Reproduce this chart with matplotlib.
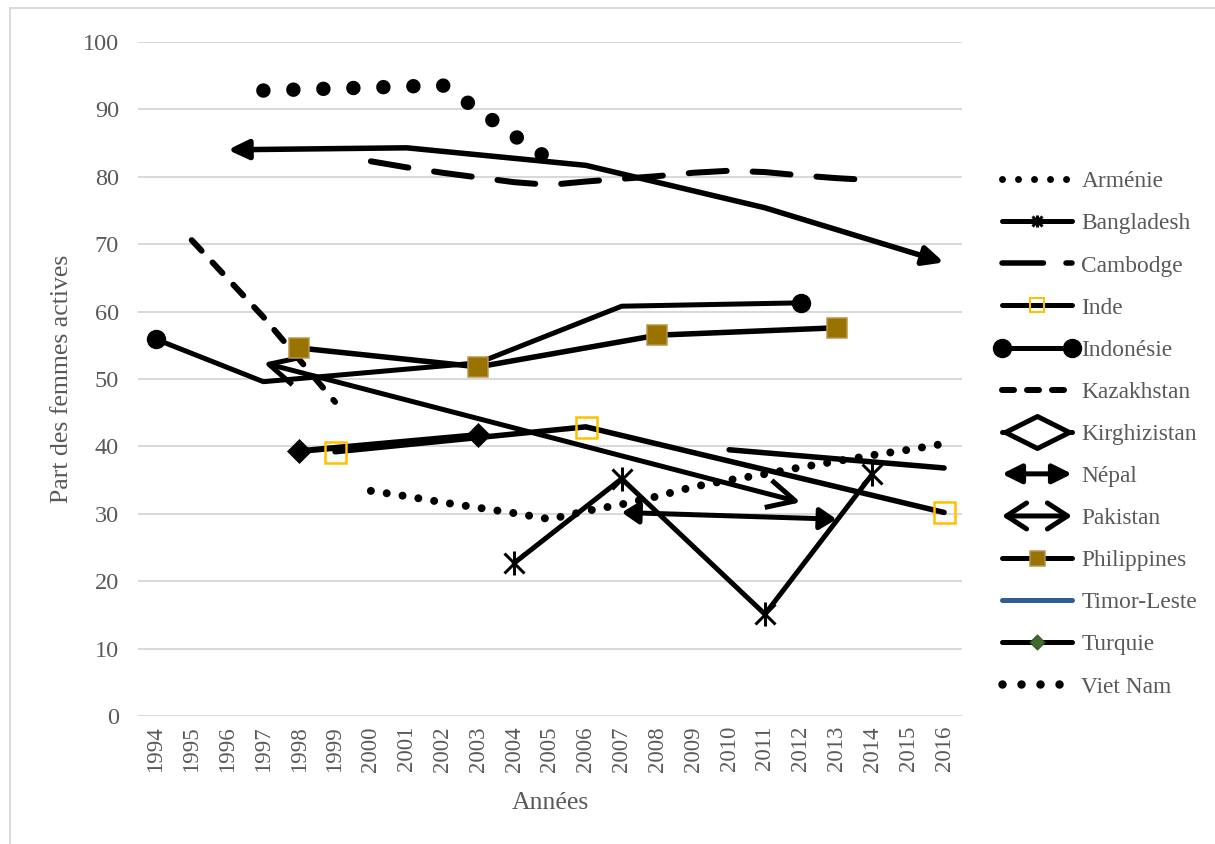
import numpy as np
import matplotlib
matplotlib.use('Agg')
import matplotlib.pyplot as plt
from matplotlib.path import Path
from matplotlib.markers import MarkerStyle
from matplotlib.lines import Line2D
from matplotlib.patches import FancyArrowPatch, Rectangle, ArrowStyle
from matplotlib.legend_handler import HandlerLine2D, HandlerBase

plt.rcParams['font.family'] = ['Liberation Serif', 'DejaVu Serif']

DPI = 100
W, H = 1215, 844


def px(v):
    return v * 72.0 / DPI


# ---------------- data ----------------
annees = list(range(1994, 2017))

armenie_x = list(range(2000, 2017))
armenie_y = [33.4, 32.6, 31.7, 30.9, 30.1, 29.2, 30.4, 31.4, 32.6, 34.0, 35.0,
             35.9, 36.9, 37.8, 38.7, 39.5, 40.4]

bangladesh_x = [2004, 2007, 2011, 2014]
bangladesh_y = [22.7, 35.2, 15.1, 35.9]

cambodge_x = list(range(2000, 2015))
cambodge_y = [82.3, 81.4, 80.6, 79.9, 79.2, 78.8, 79.3, 79.7, 80.1, 80.6, 80.9,
              80.7, 80.2, 79.8, 79.5]

inde_x = [1999, 2006, 2016]
inde_y = [39.2, 42.9, 30.2]

indonesie_x = [1994, 1997, 2003, 2007, 2012]
indonesie_y = [55.9, 49.6, 52.4, 60.8, 61.3]

kazakhstan_x = [1995, 1996, 1997, 1998, 1999]
kazakhstan_y = [70.6, 64.9, 59.2, 52.9, 46.6]

kirghizistan_x = [1998, 2003]
kirghizistan_y = [39.3, 41.7]

nepal_x = [1996, 2001, 2006, 2011, 2016]
nepal_y = [84.0, 84.3, 81.7, 75.4, 67.3]

pakistan_x = [1997, 2012]
pakistan_y = [52.4, 31.7]

philippines_x = [1998, 2003, 2008, 2013]
philippines_y = [54.6, 51.8, 56.5, 57.6]

vietnam_x = list(range(1997, 2006))
vietnam_y = [92.8, 92.95, 93.1, 93.25, 93.4, 93.6, 89.9, 86.1, 82.5]

autre1_x = [2007, 2013]
autre1_y = [30.2, 29.2]

autre2_x = [2010, 2016]
autre2_y = [39.5, 36.8]

legend_labels = ['Arménie', 'Bangladesh', 'Cambodge', 'Inde', 'Indonésie',
                 'Kazakhstan', 'Kirghizistan', 'Népal', 'Pakistan',
                 'Philippines', 'Timor-Leste', 'Turquie', 'Viet Nam']

# ---------------- styles ----------------
TXT = '#595959'
GRID = '#D9D9D9'
YELLOW = '#FFC000'
BROWN = '#997300'
BROWN_EDGE = '#B8954A'
BLUE = '#2E5E93'
GREEN = '#3F6B2B'

asterisk = Path([(-1, -1), (1, 1), (-1, 1), (1, -1), (0, -1.2), (0, 1.2)],
                [Path.MOVETO, Path.LINETO, Path.MOVETO, Path.LINETO,
                 Path.MOVETO, Path.LINETO])
diamond = Path([(-1, 0), (0, 1), (1, 0), (0, -1), (-1, 0)],
               [Path.MOVETO, Path.LINETO, Path.LINETO, Path.LINETO, Path.CLOSEPOLY])
wide_diamond = Path([(-1, 0), (0, 0.5), (1, 0), (0, -0.5), (-1, 0)],
                    [Path.MOVETO, Path.LINETO, Path.LINETO, Path.LINETO, Path.CLOSEPOLY])


def dash_ls(on_px, off_px, lw_px):
    return (0, (max(on_px, 0.01) / lw_px, off_px / lw_px))


fig = plt.figure(figsize=(W / DPI, H / DPI), dpi=DPI)
fig.patch.set_facecolor('white')
ax = fig.add_axes([138 / W, 1 - 716 / H, 824 / W, 674 / H])
ax.set_xlim(1993.5, 2016.5)
ax.set_ylim(0, 100)

for s in ax.spines.values():
    s.set_visible(False)
ax.set_yticks(range(0, 101, 10))
ax.set_xticks(annees)
ax.set_xticklabels([str(a) for a in annees], rotation=90)
ax.tick_params(axis='both', length=0, labelcolor=TXT)
ax.tick_params(axis='y', pad=px(19), labelsize=17.5)
ax.tick_params(axis='x', pad=px(10), labelsize=16.5)
ax.yaxis.grid(True, color=GRID, lw=px(2))
ax.set_axisbelow(True)

fig.text(62 / W, 1 - 379 / H, 'Part des femmes actives', rotation=90,
         ha='center', va='center', fontsize=18.5, color=TXT)
fig.text(550 / W, 1 - 803 / H, 'Années', ha='center', va='center',
         fontsize=18.5, color=TXT)

fig.patches.append(Rectangle((10 / W, -0.05), 1.5, 1.05 - 8 / H,
                             transform=fig.transFigure, fill=False,
                             ec=GRID, lw=px(2)))

common = dict(color='k', solid_capstyle='round', solid_joinstyle='round')


def arrow_line(xs, ys, style, lw_px, hl_px, hw_px, z=3):
    st = ArrowStyle(style, head_length=px(hl_px), head_width=px(hw_px))
    p = FancyArrowPatch(path=Path(np.column_stack([xs, ys])), arrowstyle=st,
                        mutation_scale=1, lw=px(lw_px), color='k',
                        joinstyle='round', capstyle='butt', zorder=z)
    ax.add_patch(p)
    return p


# Viet Nam - big round dots
ax.plot(vietnam_x, vietnam_y, color='k', lw=px(14.5),
        linestyle=dash_ls(0, 30, 14.5), dash_capstyle='round', zorder=3)
# Arménie - small round dots
ax.plot(armenie_x, armenie_y, color='k', lw=px(8),
        linestyle=dash_ls(0, 16, 8), dash_capstyle='round', zorder=3)
# Cambodge - long dashes
ax.plot(cambodge_x, cambodge_y, color='k', lw=px(6),
        linestyle=dash_ls(38, 26, 6), dash_capstyle='round',
        dash_joinstyle='round', zorder=3)
# Kazakhstan - dashes
ax.plot(kazakhstan_x, kazakhstan_y, color='k', lw=px(6),
        linestyle=dash_ls(14.5, 16, 6), dash_capstyle='round', zorder=3)
# Népal - filled arrows
arrow_line(nepal_x, nepal_y, '<|-|>', 5.5, 17, 8)
# Pakistan - open arrows
arrow_line(pakistan_x, pakistan_y, '<->', 5, 28, 14)
# other line with arrows
arrow_line(autre1_x, autre1_y, '<|-|>', 5, 14, 9)
# other plain line
ax.plot(autre2_x, autre2_y, lw=px(5.5), zorder=3, **common)
# Indonésie
ax.plot(indonesie_x, indonesie_y, lw=px(5), marker='o', ms=px(18),
        markevery=[0, len(indonesie_x) - 1], mfc='k', mec='k', zorder=3, **common)
# Philippines
ax.plot(philippines_x, philippines_y, lw=px(5.5), marker='s', ms=px(20),
        mfc=BROWN, mec=BROWN_EDGE, mew=px(1.5), zorder=4, **common)
# Kirghizistan
ax.plot(kirghizistan_x, kirghizistan_y, lw=px(6), marker=MarkerStyle(diamond),
        ms=px(25), mfc='k', mec='k', mew=0, zorder=4, **common)
# Inde
ax.plot(inde_x, inde_y, lw=px(5.5), zorder=4, **common)
ax.plot(inde_x, inde_y, lw=0, marker='s', ms=px(21), mfc='none', mec=YELLOW,
        mew=px(2.5), zorder=6)
# Bangladesh
ax.plot(bangladesh_x, bangladesh_y, lw=px(5), marker=MarkerStyle(asterisk),
        ms=px(24), mfc='none', mec='k', mew=px(3), zorder=5, **common)

# ---------------- legend ----------------


class ArrowHandler(HandlerBase):
    def __init__(self, style, lw_px, hl_px, hw_px):
        super().__init__()
        self.style = style
        self.lw_px = lw_px
        self.hl_px = hl_px
        self.hw_px = hw_px

    def create_artists(self, legend, orig_handle, xdescent, ydescent,
                       width, height, fontsize, trans):
        y = height / 2 - ydescent
        st = ArrowStyle(self.style, head_length=px(self.hl_px),
                        head_width=px(self.hw_px))
        p = FancyArrowPatch((-xdescent, y), (-xdescent + width, y),
                            arrowstyle=st, mutation_scale=1,
                            lw=px(self.lw_px), color='k', shrinkA=0,
                            shrinkB=0, joinstyle='round')
        p.set_transform(trans)
        return [p]


h_arm = Line2D([], [], color='k', lw=px(7), linestyle=dash_ls(0, 16, 7),
               dash_capstyle='round')
h_ban = Line2D([], [], lw=px(5), marker=MarkerStyle(asterisk), ms=px(12),
               mfc='none', mec='k', mew=px(3), **common)
h_cam = Line2D([], [], color='k', lw=px(5.5), linestyle=dash_ls(41.5, 22.5, 5.5),
               dash_capstyle='round')
h_ind = Line2D([], [], lw=px(5), marker='s', ms=px(14), mfc='none',
               mec=YELLOW, mew=px(2), **common)
h_idn = Line2D([], [], lw=px(5), marker='o', ms=px(18), mfc='k', mec='k',
               **common)
h_kaz = Line2D([], [], color='k', lw=px(6), linestyle=dash_ls(12, 13, 6),
               dash_capstyle='round')
h_kir = Line2D([], [], lw=px(5), marker=MarkerStyle(wide_diamond), ms=px(64),
               mfc='white', mec='k', mew=px(5), **common)
h_nep = Line2D([], [], color='k')
h_pak = Line2D([], [], color='k')
h_phi = Line2D([], [], lw=px(5), marker='s', ms=px(15), mfc=BROWN,
               mec=BROWN_EDGE, mew=px(1.5), **common)
h_tim = Line2D([], [], color=BLUE, lw=px(5), solid_capstyle='round')
h_tur = Line2D([], [], lw=px(5), marker=MarkerStyle(diamond), ms=px(15),
               mfc=GREEN, mec='#2F5120', mew=px(1), **common)
h_vie = Line2D([], [], color='k', lw=px(8.5), linestyle=dash_ls(0, 19, 8.5),
               dash_capstyle='round')

handles = [h_arm, h_ban, h_cam, h_ind, h_idn, h_kaz, h_kir, h_nep, h_pak,
           h_phi, h_tim, h_tur, h_vie]

leg = fig.legend(handles, legend_labels, loc='upper left',
                 bbox_to_anchor=(1002 / W, 1 - 171 / H),
                 bbox_transform=fig.transFigure, frameon=False,
                 fontsize=16.8, handlelength=3.0, handletextpad=0.4,
                 labelspacing=0.89, borderpad=0, borderaxespad=0,
                 handler_map={
                     h_idn: HandlerLine2D(numpoints=2, marker_pad=0),
                     h_nep: ArrowHandler('<|-|>', 5, 16, 8),
                     h_pak: ArrowHandler('<->', 5, 20, 13),
                 })
for t in leg.get_texts():
    t.set_color(TXT)

fig.savefig('out.png', dpi=DPI, facecolor='white')
